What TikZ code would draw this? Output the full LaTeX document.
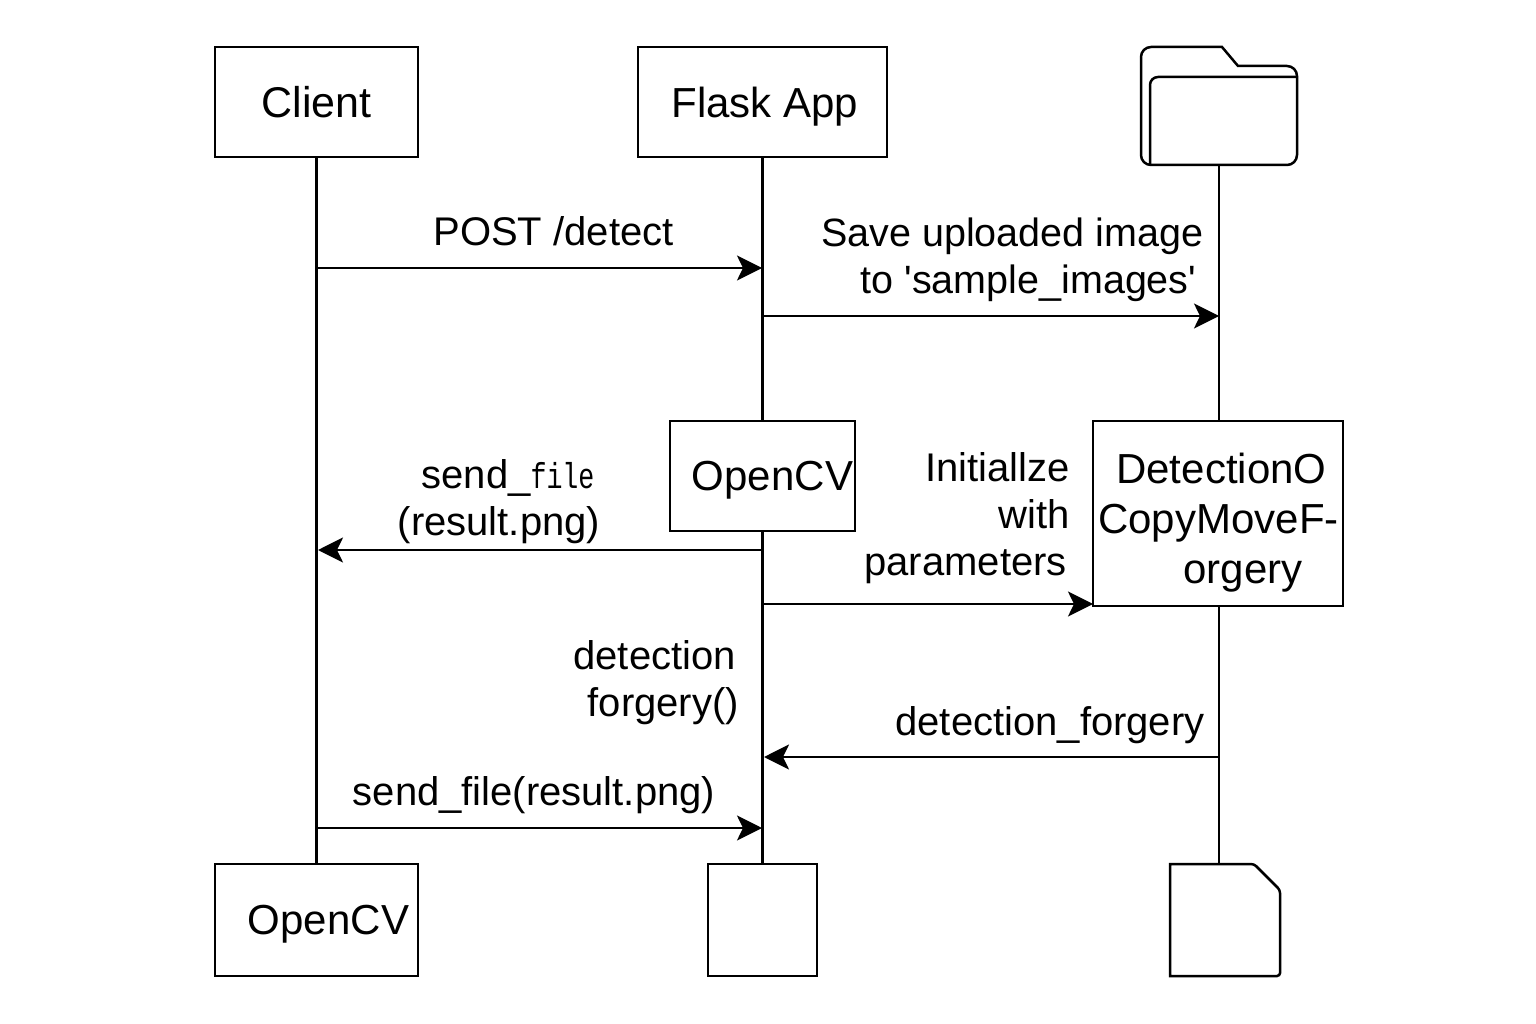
\documentclass[tikz,border=0pt]{standalone}
\usepackage{fontspec}
\setmainfont{Liberation Sans}
\setmonofont{Liberation Mono}
\usetikzlibrary{arrows.meta}
\tikzset{
	box/.style={draw,line width=2.5pt,inner sep=0pt,outer sep=0pt,text depth=0pt,font=\fontsize{42}{50}\selectfont},
	lbl/.style={inner sep=0pt,font=\fontsize{40}{47}\selectfont},
	msg/.style={->,line width=2.5pt}
}
\begin{document}
\begin{tikzpicture}[x=1pt,y=-1pt,line join=miter,>={Stealth[length=25pt,width=25pt,inset=6pt]}]
	\useasboundingbox (0,0) rectangle (1536,1024);
	%boxes
	\node[box,minimum width=203pt,minimum height=110pt,font=\fontsize{43}{50}\selectfont] (client) at (316.5,102) {Client};
	\node[box,minimum width=249pt,minimum height=110pt] (flask) at (762.5,102) {\hspace*{5pt}Flask App};
	\node[box,minimum width=185pt,minimum height=110pt] (opencv) at (762.5,476) {\hspace*{20pt}OpenCV};
	\node[box,minimum width=250pt,minimum height=185pt] (detect) at (1218,513.5) {};
	\node[lbl,align=left,font=\fontsize{42}{50}\selectfont] (detectLbl) at (1218.5,523) {\hspace*{18pt}DetectionO\\CopyMoveF-\\\hspace*{85pt}orgery};
	\node[box,minimum width=203pt,minimum height=112pt] (clientEnd) at (316.5,920) {\hspace*{24pt}OpenCV};
	\node[box,minimum width=109pt,minimum height=112pt] (flaskEnd) at (762.5,920) {};
	%folder
	\node[inner sep=0pt,outer sep=0pt,minimum width=156pt,minimum height=118pt] (store) at (1219,106) {};
	\draw[line width=2.5pt,rounded corners=10pt] (1141,100)--(1141,47)[sharp corners]--(1222,47)--(1238,66)[rounded corners=10pt]--(1297,66)--(1297,165)--(1141,165)--cycle;
	\draw[line width=2.5pt,rounded corners=8pt] (1297,77)--(1150,77)--(1150,165);
	%file
	\node[inner sep=0pt,outer sep=0pt,minimum width=110pt,minimum height=112pt] (fileEnd) at (1225,920) {};
	\draw[line width=2.5pt,rounded corners=3pt] (1170,864)--(1254,864)--(1280,890)--(1280,976)[sharp corners]--(1170,976)--cycle;
	%lifelines
	\coordinate (fileTop) at (1219,864);
	\draw[line width=2.5pt] (client.south)--(clientEnd.north);
	\draw[line width=2.5pt] (flask.south)--(opencv.north);
	\draw[line width=2.5pt] (opencv.south)--(flaskEnd.north);
	\draw[line width=2.5pt] (store.south)--(store.south|-detect.north);
	\draw[line width=2.5pt] (store.south|-detect.south)--(fileTop);
	%messages
	\foreach \n/\x/\y in {a1/317/268,a2/762/268,b1/762/316,b2/1219/316,c1/762/550,c2/318/550,d1/762/604,d2/1093/604,e1/1219/757,e2/764/757,f1/317/828,f2/762/828}
		\coordinate (\n) at (\x,\y);
	\foreach \s/\t in {a1/a2,b1/b2,c1/c2,d1/d2,e1/e2,f1/f2}
		\draw[msg] (\s)--(\t);
	%labels
	\node[lbl] (postLbl) at (553.5,231) {POST /detect};
	\node[lbl,align=right,anchor=east,font=\fontsize{39.5}{47}\selectfont] (saveLbl) at (1203.5,259.5) {Save uploaded image\\to \textquotesingle sample\_images\textquotesingle\hspace*{7pt}};
	\node[lbl,align=center] (sendLbl) at (499,501.5) {\hspace*{18pt}send\_{\ttfamily\fontsize{36}{47}\selectfont\scalebox{0.74}[1]{file}}\\(result.png)};
	\node[lbl,align=right,anchor=east] (initLbl) at (1070,518) {Initiallze\\with\\parameters\hspace*{3pt}};
	\node[lbl,align=right,anchor=east] (forgeLbl) at (739,682.5) {detection\hspace*{3pt}\\forgery()};
	\node[lbl] (retLbl) at (1050,725) {detection\_forgery};
	\node[lbl] (fileLbl) at (534,795) {send\_file(result.png)};
\end{tikzpicture}
\end{document}
